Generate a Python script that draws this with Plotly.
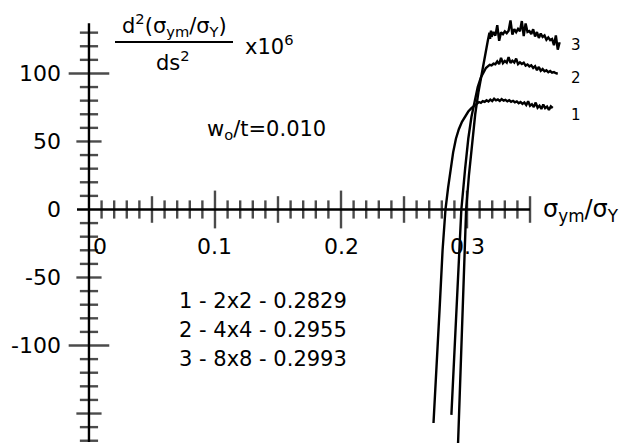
import numpy as np
import plotly.graph_objects as go

# ---- curve data: second derivative (x10^6) vs sigma_ym/sigma_Y ----
# mesh 2x2, zero crossing 0.2829
c1_x = [0.2734, 0.2758, 0.2782, 0.2806, 0.2829, 0.2850, 0.2870, 0.2890, 0.2912,
        0.2935, 0.2960, 0.2985, 0.3010, 0.3035, 0.3060]
c1_y = [-157.0, -118.0, -74.0, -30.0, 0.0, 16.0, 30.0, 42.0, 52.0,
        59.0, 64.5, 68.5, 72.0, 74.5, 76.5]
c1_plateau_x0 = 0.3080
c1_plateau_y = [78.2, 79.0, 78.4, 79.6, 79.1, 80.3, 79.4, 80.8, 79.7, 81.4, 80.2,
                80.9, 79.8, 81.1, 80.0, 80.6, 79.5, 80.3, 79.2, 79.9, 78.8, 79.4,
                78.1, 79.0, 77.6, 78.7, 76.8, 79.5, 76.2, 77.4, 75.3, 78.6, 74.8,
                76.3, 73.9, 77.2, 74.5, 75.6, 73.2, 75.8, 74.6]

# mesh 4x4, zero crossing 0.2955
c2_x = [0.2876, 0.2903, 0.2929, 0.2955, 0.2985, 0.3010, 0.3035, 0.3060, 0.3085,
        0.3110, 0.3130, 0.3150]
c2_y = [-151.0, -100.0, -50.0, 0.0, 30.0, 52.0, 68.0, 80.0, 90.0,
        97.0, 101.0, 104.0]
c2_plateau_x0 = 0.3165
c2_plateau_y = [105.2, 106.4, 105.9, 107.3, 106.8, 108.9, 106.9, 111.5, 107.6, 109.2,
                108.0, 112.0, 107.8, 109.4, 108.1, 110.9, 106.9, 108.2, 107.0, 107.9,
                105.8, 106.6, 105.2, 106.0, 104.1, 105.3, 102.4, 104.8, 101.9, 103.2,
                101.6, 102.3, 100.9, 101.8, 100.6, 101.0, 100.2, 99.8]

# mesh 8x8, zero crossing 0.2993
c3_x = [0.2929, 0.2950, 0.2971, 0.2993, 0.3015, 0.3040, 0.3065, 0.3090, 0.3110,
        0.3130, 0.3150, 0.3165, 0.3178, 0.3183, 0.3190]
c3_y = [-171.7, -115.0, -57.0, 0.0, 25.0, 48.0, 70.0, 86.0, 97.0,
        106.0, 116.0, 124.0, 130.0, 125.5, 131.5]
c3_plateau_x0 = 0.3195
c3_plateau_y = [127.0, 130.5, 127.8, 135.5, 124.0, 130.2, 128.9, 131.0, 129.6, 131.4,
                139.0, 128.5, 132.6, 130.4, 132.8, 131.0, 138.5, 127.5, 136.8, 130.5,
                131.2, 129.0, 132.5, 127.2, 130.4, 126.1, 129.4, 126.8, 127.9, 124.8,
                126.5, 124.5, 125.3, 120.8, 128.0, 117.5, 123.0]
PLATEAU_STEP = 0.0015

curve_names = ["1", "2", "3"]
legend_lines = ["1 - 2x2 - 0.2829", "2 - 4x4 - 0.2955", "3 - 8x8 - 0.2993"]

# ---- axis ticks ----
x_tick_labels = ["0", "0.1", "0.2", "0.3"]
x_tick_label_vals = [0.0, 0.1, 0.2, 0.3]
y_tick_label_vals = [100, 50, 0, -50, -100]
x_axis_end = 0.35
x_axis_start = -0.0095
y_axis_min, y_axis_max = -171.0, 137.0

X_RANGE = [-0.0706, 0.4214]
Y_RANGE = [-172.4, 154.0]
W, H = 620, 444
FONT = "DejaVu Sans"
LW = 2.4


def px(v):
    return v / W


def py(v):
    return 1 - v / H


def full_curve(xs, ys, x0, plateau):
    px_ = xs + [x0 + i * PLATEAU_STEP for i in range(len(plateau))]
    return px_, ys + plateau


fig = go.Figure()

# axis lines
fig.add_trace(go.Scatter(x=[x_axis_start, x_axis_end], y=[0, 0], mode="lines",
                         line=dict(color="black", width=LW), hoverinfo="skip"))
fig.add_trace(go.Scatter(x=[0, 0], y=[y_axis_min, y_axis_max], mode="lines",
                         line=dict(color="black", width=LW), hoverinfo="skip"))

# x ticks every 0.01, longer at 0.05 and 0.1
xt = [round(0.01 * i, 2) for i in range(1, 36)]
xt_size = []
for i in range(1, 36):
    if i % 10 == 0:
        xt_size.append(27)
    elif i % 5 == 0:
        xt_size.append(19)
    else:
        xt_size.append(13)
fig.add_trace(go.Scatter(x=xt, y=[0] * len(xt), mode="markers",
                         marker=dict(symbol="line-ns", size=xt_size, color="black",
                                     line=dict(color="black", width=LW)),
                         hoverinfo="skip"))

# y ticks every 10, longer at 50 and 100
yt = [v for v in range(-170, 131, 10) if v != 0]
yt_size = []
for v in yt:
    if v % 100 == 0:
        yt_size.append(29)
    elif v % 50 == 0:
        yt_size.append(18)
    else:
        yt_size.append(13)
fig.add_trace(go.Scatter(x=[0] * len(yt), y=yt, mode="markers",
                         marker=dict(symbol="line-ew", size=yt_size, color="black",
                                     line=dict(color="black", width=LW)),
                         hoverinfo="skip"))

# curves
for xs, ys, x0, pl in [(c1_x, c1_y, c1_plateau_x0, c1_plateau_y),
                       (c2_x, c2_y, c2_plateau_x0, c2_plateau_y),
                       (c3_x, c3_y, c3_plateau_x0, c3_plateau_y)]:
    cx, cy = full_curve(xs, ys, x0, pl)
    fig.add_trace(go.Scatter(x=cx, y=cy, mode="lines",
                             line=dict(color="black", width=LW), cliponaxis=False))

ann = []
# tick labels
for lab, v in zip(x_tick_labels, x_tick_label_vals):
    ann.append(dict(x=v, y=0, xref="x", yref="y", text=lab, showarrow=False,
                    xanchor="center", yanchor="middle", yshift=-37,
                    xshift=11 if v == 0 else 0,
                    font=dict(family=FONT, size=22, color="black")))
for v in y_tick_label_vals:
    ann.append(dict(x=0, y=v, xref="x", yref="y", text=str(v), showarrow=False,
                    xanchor="right", yanchor="middle", xshift=-26,
                    font=dict(family=FONT, size=22, color="black")))

# curve numbers at right ends
for name, ypix in zip(curve_names, [115, 78, 45]):
    ann.append(dict(x=px(576), y=py(ypix), xref="paper", yref="paper", text=name,
                    showarrow=False, xanchor="center", yanchor="middle",
                    font=dict(family=FONT, size=15, color="black")))

# legend text
for line, ypix in zip(legend_lines, [301, 330, 359]):
    ann.append(dict(x=px(177), y=py(ypix), xref="paper", yref="paper", text=line,
                    showarrow=False, xanchor="left", yanchor="middle",
                    font=dict(family=FONT, size=21, color="black")))

# parameter text
ann.append(dict(x=px(266), y=py(130), xref="paper", yref="paper",
                text="w<sub>o</sub>/t=0.010", showarrow=False,
                xanchor="center", yanchor="middle",
                font=dict(family=FONT, size=21, color="black")))

# x axis title
ann.append(dict(x=px(541), y=py(210), xref="paper", yref="paper",
                text="σ<sub>ym</sub>/σ<sub>Y</sub>", showarrow=False,
                xanchor="left", yanchor="middle",
                font=dict(family=FONT, size=24, color="black")))

# y axis title: fraction
ann.append(dict(x=px(174), y=py(25), xref="paper", yref="paper",
                text="d<sup>2</sup>(σ<sub>ym</sub>/σ<sub>Y</sub>)", showarrow=False,
                xanchor="center", yanchor="middle",
                font=dict(family=FONT, size=21, color="black")))
ann.append(dict(x=px(173), y=py(61), xref="paper", yref="paper",
                text="ds<sup>2</sup>", showarrow=False,
                xanchor="center", yanchor="middle",
                font=dict(family=FONT, size=21, color="black")))
ann.append(dict(x=px(243), y=py(45), xref="paper", yref="paper",
                text="x10<sup>6</sup>", showarrow=False,
                xanchor="left", yanchor="middle",
                font=dict(family=FONT, size=21, color="black")))

fig.update_layout(
    width=W, height=H,
    margin=dict(l=0, r=0, t=0, b=0),
    paper_bgcolor="white", plot_bgcolor="white",
    showlegend=False,
    xaxis=dict(range=X_RANGE, visible=False, fixedrange=True),
    yaxis=dict(range=Y_RANGE, visible=False, fixedrange=True),
    annotations=ann,
    shapes=[dict(type="line", xref="paper", yref="paper",
                 x0=px(115), x1=px(233), y0=py(42), y1=py(42),
                 line=dict(color="black", width=2))],
)

fig.write_html("out.html")
